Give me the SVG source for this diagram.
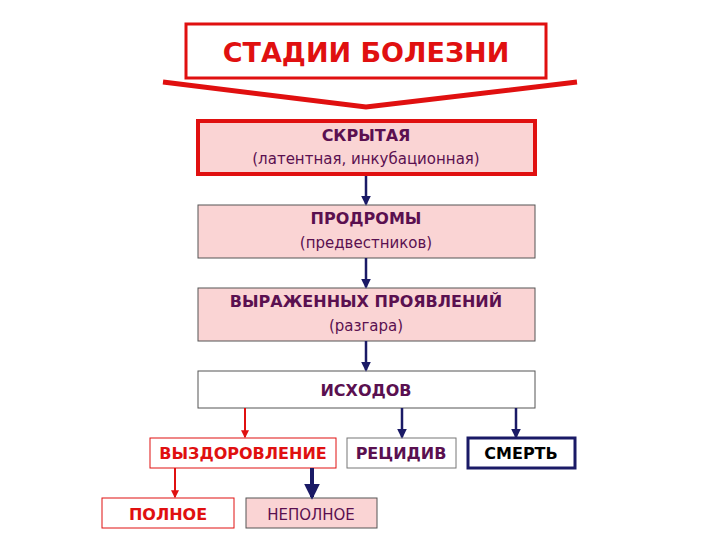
<svg xmlns="http://www.w3.org/2000/svg" width="720" height="540" viewBox="0 0 720 540">
<style>
text{font-family:"DejaVu Sans",sans-serif;text-anchor:middle}
.b{font-weight:bold;font-size:16px;fill:#5a1050}
.s{font-size:15px;fill:#5a1050}
.pink{fill:#fad4d4}
.n{stroke:#1a1a66;stroke-width:2.5;fill:none}
.r{stroke:#e01010;stroke-width:2;fill:none}
</style>
<defs>
<marker id="an" viewBox="0 0 6 6" refX="5" refY="3" markerWidth="4" markerHeight="4" orient="auto"><path d="M0,0L6,3L0,6z" fill="#1a1a66"/></marker>
<marker id="ar" viewBox="0 0 6 6" refX="5" refY="3" markerWidth="4" markerHeight="4" orient="auto"><path d="M0,0L6,3L0,6z" fill="#e01010"/></marker>
</defs>
<rect width="720" height="540" fill="#fff"/>
<g id="title"><rect x="186" y="24" width="360" height="54" fill="#fff" stroke="#e01010" stroke-width="3"/>
<text x="366" y="62" style="font-size:27px;font-weight:bold;fill:#e01010">СТАДИИ  БОЛЕЗНИ</text>
<polyline points="163,82 366,107 577,82" fill="none" stroke="#e01010" stroke-width="5"/></g>
<g id="n1"><rect x="198" y="121" width="337" height="53" class="pink" stroke="#e01010" stroke-width="4"/>
<text x="366" y="141" class="b">СКРЫТАЯ</text><text x="366" y="164" class="s">(латентная, инкубационная)</text></g>
<g id="n2"><rect x="198" y="205" width="337" height="53" class="pink" stroke="#555" stroke-width="1"/>
<text x="366" y="224" class="b">ПРОДРОМЫ</text><text x="366" y="248" class="s">(предвестников)</text></g>
<g id="n3"><rect x="198" y="288" width="337" height="53" class="pink" stroke="#555" stroke-width="1"/>
<text x="366" y="307" class="b">ВЫРАЖЕННЫХ ПРОЯВЛЕНИЙ</text><text x="366" y="331" class="s">(разгара)</text></g>
<g id="n4"><rect x="198" y="371" width="337" height="37" fill="#fff" stroke="#555" stroke-width="1"/>
<text x="366" y="396" class="b">ИСХОДОВ</text></g>
<g id="n5"><rect x="150" y="438" width="186" height="30" fill="#fff" stroke="#e01010" stroke-width="1"/>
<text x="243" y="459" class="b" style="fill:#e01010">ВЫЗДОРОВЛЕНИЕ</text></g>
<g id="n6"><rect x="347" y="438" width="109" height="30" fill="#fff" stroke="#777" stroke-width="1"/>
<text x="401" y="459" class="b">РЕЦИДИВ</text></g>
<g id="n7"><rect x="468" y="438" width="107" height="30" fill="#fff" stroke="#1a1a66" stroke-width="3"/>
<text x="521" y="459" class="b" style="fill:#000">СМЕРТЬ</text></g>
<g id="n8"><rect x="102" y="498" width="132" height="30" fill="#fff" stroke="#e01010" stroke-width="1"/>
<text x="168" y="520" class="b" style="fill:#e01010">ПОЛНОЕ</text></g>
<g id="n9"><rect x="246" y="498" width="131" height="30" class="pink" stroke="#555" stroke-width="1"/>
<text x="311" y="520" class="s">НЕПОЛНОЕ</text></g>
<g id="connectors">
<line x1="366" y1="176" x2="366" y2="204" class="n" marker-end="url(#an)"/>
<line x1="366" y1="258" x2="366" y2="287" class="n" marker-end="url(#an)"/>
<line x1="366" y1="341" x2="366" y2="370" class="n" marker-end="url(#an)"/>
<line x1="245" y1="408" x2="245" y2="437" class="r" marker-end="url(#ar)"/>
<line x1="402" y1="408" x2="402" y2="437" class="n" marker-end="url(#an)"/>
<line x1="516" y1="408" x2="516" y2="437" class="n" marker-end="url(#an)"/>
<line x1="175" y1="468" x2="175" y2="497" class="r" marker-end="url(#ar)"/>
<line x1="312" y1="468" x2="312" y2="497" class="n" style="stroke-width:4" marker-end="url(#an)"/>
</g>
</svg>
